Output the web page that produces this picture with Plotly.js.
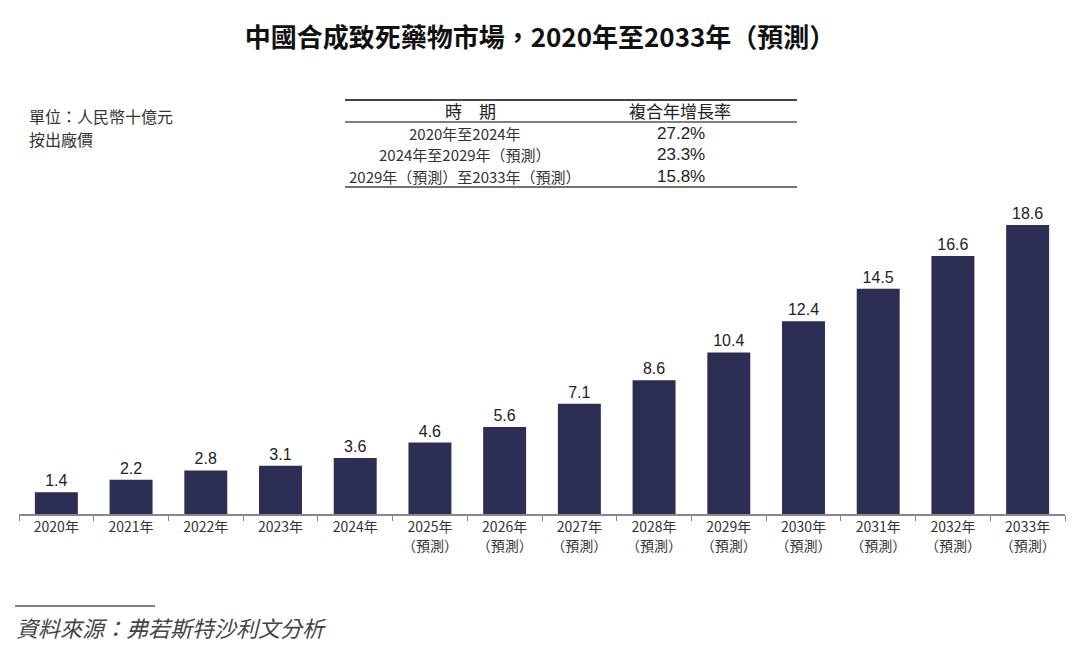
<!DOCTYPE html>
<html>
<head>
<meta charset="utf-8">
<script src="https://cdn.plot.ly/plotly-3.0.1.min.js"></script>
<style>html,body{margin:0;padding:0;background:#fff;}#chart{width:1080px;height:665px;}</style>
</head>
<body>
<div id="chart"></div>
<script>
const years = ['2020年','2021年','2022年','2023年','2024年','2025年','2026年','2027年','2028年','2029年','2030年','2031年','2032年','2033年'];
const forecastFlags = [false,false,false,false,false,true,true,true,true,true,true,true,true,true];
const marketSize = [1.4,2.2,2.8,3.1,3.6,4.6,5.6,7.1,8.6,10.4,12.4,14.5,16.6,18.6];
const tablePeriods = ['2020年至2024年','2024年至2029年（預測）','2029年（預測）至2033年（預測）'];
const tableCagr = ['27.2%','23.3%','15.8%'];
const tableHeaders = ['時　期','複合年增長率'];
const titleText = '中國合成致死藥物市場，2020年至2033年（預測）';
const unitLines = ['單位：人民幣十億元','按出廠價'];
const sourceText = '資料來源：弗若斯特沙利文分析';

const tickText = years.map((y,i)=> forecastFlags[i] ? y + '<br>（預測）' : y);

const W = 1080, H = 665;
const M = {l: 19, r: 15, t: 200, b: 151};
const pw = W - M.l - M.r, ph = H - M.t - M.b;
const px = x => (x - M.l) / pw;
const py = y => (H - M.b - y) / ph;

const serif = '"Noto Sans CJK TC", "Noto Sans CJK SC", sans-serif';
const sans = 'Arial, "Liberation Sans", "Noto Sans CJK TC", sans-serif';

const annotations = [];
function txt(x, y, text, opts) {
  annotations.push(Object.assign({
    xref: 'paper', yref: 'paper', x: px(x), y: py(y), text: text, showarrow: false,
    xanchor: 'center', yanchor: 'middle', borderpad: 0,
    font: {family: serif, size: 14, color: '#333'}
  }, opts || {}));
}
unitLines.forEach((t, i) => txt(28, 116 + i * 23, t, {xanchor: 'left', font: {family: serif, size: 16, color: '#333'}}));
txt(470, 111, tableHeaders[0], {font: {family: serif, size: 17, color: '#222'}});
txt(680, 111, tableHeaders[1], {font: {family: serif, size: 17, color: '#222'}});
tablePeriods.forEach((t, i) => {
  txt(465, 133 + i * 22, t, {font: {family: serif, size: 15, color: '#333'}});
  txt(681, 133 + i * 22, tableCagr[i], {font: {family: sans, size: 17, color: '#222'}});
});
txt(15, 627, '<i>' + sourceText + '</i>', {xanchor: 'left', font: {family: serif, size: 22, color: '#444'}});

const shapes = [
  {type: 'line', xref: 'paper', yref: 'paper', x0: px(345), x1: px(797), y0: py(100), y1: py(100), line: {color: '#444', width: 2}},
  {type: 'line', xref: 'paper', yref: 'paper', x0: px(345), x1: px(797), y0: py(122), y1: py(122), line: {color: '#555', width: 1.5}},
  {type: 'line', xref: 'paper', yref: 'paper', x0: px(345), x1: px(797), y0: py(187), y1: py(187), line: {color: '#444', width: 1.5}},
  {type: 'line', xref: 'paper', yref: 'paper', x0: px(15), x1: px(155), y0: py(606), y1: py(606), line: {color: '#555', width: 1.5}}
];

const trace = {
  type: 'bar', x: years, y: marketSize,
  marker: {color: '#2c2e54'},
  text: marketSize.map(v => v.toFixed(1)),
  textposition: 'outside', cliponaxis: false,
  textfont: {family: sans, size: 16, color: '#222'},
  hoverinfo: 'x+y'
};

const layout = {
  width: W, height: H, margin: M,
  paper_bgcolor: '#fff', plot_bgcolor: '#fff',
  showlegend: false, bargap: 0.425,
  title: {text: '<b>' + titleText + '</b>', xref: 'container', yref: 'container', x: 0.5, y: 1 - 38 / H, xanchor: 'center', yanchor: 'middle',
    font: {family: serif, size: 26, color: '#111'}},
  xaxis: {type: 'category', tickmode: 'array', tickvals: years, ticktext: tickText,
    showline: true, linecolor: '#888', linewidth: 1.5, ticks: 'outside', tickson: 'boundaries', ticklen: 5, tickcolor: '#888',
    showgrid: false, tickfont: {family: serif, size: 14, color: '#333'}, fixedrange: true},
  yaxis: {range: [0, ph / 15.54], visible: false, showgrid: false, zeroline: false, fixedrange: true},
  annotations: annotations, shapes: shapes
};

Plotly.newPlot('chart', [trace], layout, {displayModeBar: false, staticPlot: true});
</script>
</body>
</html>
